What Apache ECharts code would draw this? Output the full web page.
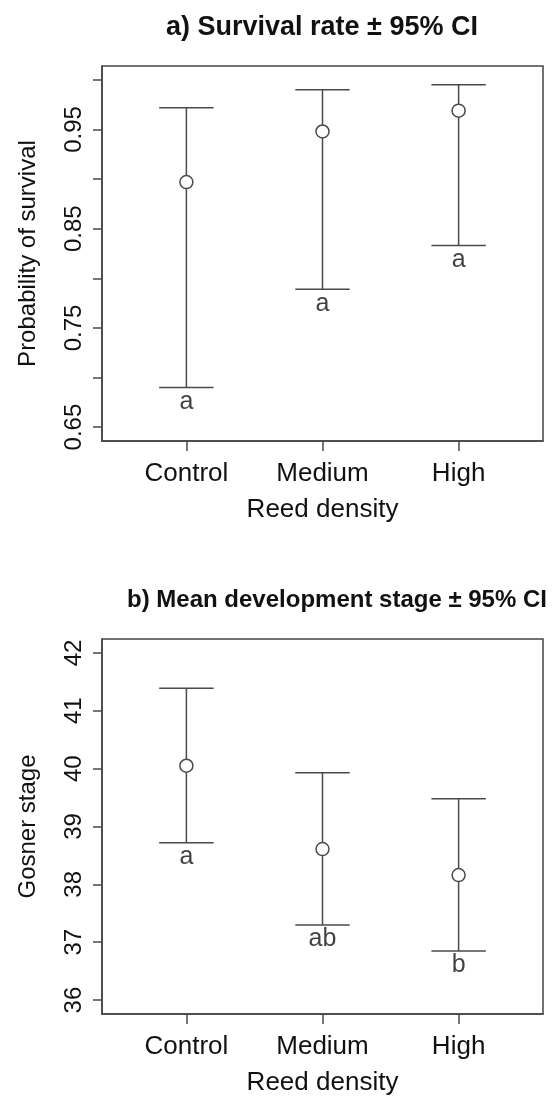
<!DOCTYPE html>
<html>
<head>
<meta charset="utf-8">
<script src="https://cdn.jsdelivr.net/npm/echarts@6/dist/echarts.min.js"></script>
<style>
  html, body { margin: 0; padding: 0; background: #fff; }
  #chart { width: 559px; height: 1104px; }
</style>
</head>
<body>
<div id="chart"></div>
<script>
// categories (x positions 1, 2, 3)
var categories = ['Control', 'Medium', 'High'];

// a) survival rate +/- 95% CI
var survMean = [0.897, 0.948, 0.969];
var survLow = [0.690, 0.789, 0.833];
var survHigh = [0.972, 0.990, 0.995];
var survLetters = ['a', 'a', 'a'];
var survTicks = [0.65, 0.70, 0.75, 0.80, 0.85, 0.90, 0.95, 1.00];
var survTickLabels = [0.65, 0.75, 0.85, 0.95];

// b) mean development stage +/- 95% CI
var stageMean = [40.05, 38.61, 38.16];
var stageLow = [38.72, 37.30, 36.85];
var stageHigh = [41.39, 39.93, 39.48];
var stageLetters = ['a', 'ab', 'b'];
var stageTicks = [36, 37, 38, 39, 40, 41, 42];

var FONT = '"Liberation Sans", Arial, Helvetica, sans-serif';
var INK = '#111';
var LINE = '#4a4a4a';
var xPos = categories.map(function (c, i) { return i + 1; });

var chart = echarts.init(document.getElementById('chart'));

// R-style error bar with caps
function errorBar(params, api) {
    var x = api.value(0);
    var lo = api.coord([x, api.value(1)]);
    var hi = api.coord([x, api.value(2)]);
    var w = (api.coord([x + 0.2, api.value(1)])[0] - lo[0]);
    var st = { stroke: LINE, lineWidth: 1.5 };
    return {
        type: 'group',
        children: [
            { type: 'line', shape: { x1: lo[0], y1: lo[1], x2: hi[0], y2: hi[1] }, style: st },
            { type: 'line', shape: { x1: lo[0] - w, y1: lo[1], x2: lo[0] + w, y2: lo[1] }, style: st },
            { type: 'line', shape: { x1: hi[0] - w, y1: hi[1], x2: hi[0] + w, y2: hi[1] }, style: st }
        ]
    };
}

function xAxisOf(idx) {
    return {
        type: 'value', gridIndex: idx, min: 0.38, max: 3.62,
        name: 'Reed density', nameLocation: 'middle', nameGap: 56,
        nameTextStyle: { fontFamily: FONT, fontSize: 26, color: INK },
        axisLine: { show: true, lineStyle: { color: '#444', width: 1.5 } },
        axisTick: { show: true, length: 10, lineStyle: { color: LINE, width: 1.5 }, customValues: xPos },
        axisLabel: {
            fontFamily: FONT, fontSize: 26, color: INK, margin: 20, customValues: xPos,
            formatter: function (v) { return categories[Math.round(v) - 1] || ''; }
        },
        splitLine: { show: false }
    };
}

function yAxisOf(idx, min, max, ticks, labels, name, fmt) {
    return {
        type: 'value', gridIndex: idx, min: min, max: max,
        name: name, nameLocation: 'middle', nameGap: 62,
        nameTextStyle: { fontFamily: FONT, fontSize: 24, color: INK },
        axisLine: { show: true, lineStyle: { color: '#444', width: 1.5 } },
        axisTick: { show: true, length: 9, lineStyle: { color: LINE, width: 1.5 }, customValues: ticks },
        axisLabel: {
            fontFamily: FONT, fontSize: 24, color: INK, rotate: 90, margin: 16,
            customValues: labels, formatter: fmt
        },
        splitLine: { show: false }
    };
}

function pairs(xs, ys) { return xs.map(function (x, i) { return [x, ys[i]]; }); }

function panelSeries(idx, mean, low, high, letters) {
    return [
        {
            type: 'custom', xAxisIndex: idx, yAxisIndex: idx,
            renderItem: errorBar, z: 2,
            data: xPos.map(function (x, i) { return [x, low[i], high[i]]; })
        },
        {
            type: 'scatter', xAxisIndex: idx, yAxisIndex: idx, z: 3,
            symbol: 'circle', symbolSize: 13,
            itemStyle: { color: '#fff', borderColor: LINE, borderWidth: 1.5, opacity: 1 },
            data: pairs(xPos, mean)
        },
        {
            type: 'scatter', xAxisIndex: idx, yAxisIndex: idx, z: 3,
            symbolSize: 0,
            label: {
                show: true, position: 'bottom', distance: 2,
                fontFamily: FONT, fontSize: 25, color: INK,
                formatter: function (p) { return letters[p.dataIndex]; }
            },
            data: pairs(xPos, low)
        }
    ];
}

var option = {
    animation: false,
    backgroundColor: '#fff',
    title: [
        {
            text: 'a) Survival rate \u00b1 95% CI', left: 317, top: 9, textAlign: 'center',
            textStyle: { fontFamily: FONT, fontSize: 27, fontWeight: 'bold', color: INK }
        },
        {
            text: 'b) Mean development stage \u00b1 95% CI', left: 332, top: 583, textAlign: 'center',
            textStyle: { fontFamily: FONT, fontSize: 24, fontWeight: 'bold', color: INK }
        }
    ],
    grid: [
        { left: 102, top: 66, width: 441, height: 375, show: true, borderColor: '#444', borderWidth: 1.5 },
        { left: 102, top: 639, width: 441, height: 375, show: true, borderColor: '#444', borderWidth: 1.5 }
    ],
    xAxis: [xAxisOf(0), xAxisOf(1)],
    yAxis: [
        yAxisOf(0, 0.636, 1.014, survTicks, survTickLabels, 'Probability of survival',
            function (v) { return v.toFixed(2); }),
        yAxisOf(1, 35.76, 42.24, stageTicks, stageTicks, 'Gosner stage',
            function (v) { return String(Math.round(v)); })
    ],
    series: panelSeries(0, survMean, survLow, survHigh, survLetters)
        .concat(panelSeries(1, stageMean, stageLow, stageHigh, stageLetters))
};

chart.setOption(option);
</script>
</body>
</html>
